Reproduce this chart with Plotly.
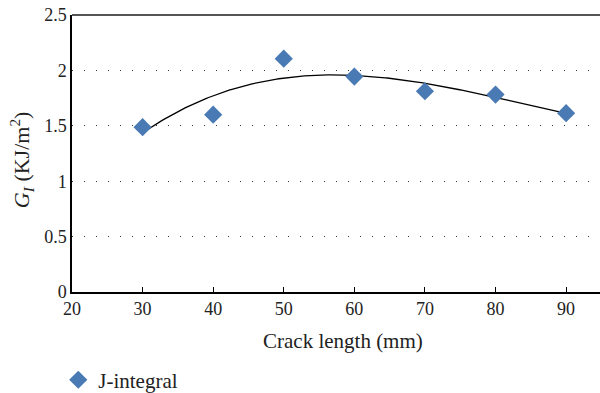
import numpy as np
import plotly.graph_objects as go

crack_length = [30, 40, 50, 60, 70, 80, 90]
g_values = [1.488, 1.600, 2.106, 1.944, 1.812, 1.782, 1.614]
series_name = "J-integral"
y_ticks = [0, 0.5, 1, 1.5, 2, 2.5]
y_tick_labels = ["0", "0.5", "1", "1.5", "2", "2.5"]
x_ticks = [20, 30, 40, 50, 60, 70, 80, 90]

# Excel-style polynomial (order 3) trendline fitted to the data
coef = np.polyfit(crack_length, g_values, 3)
xt = np.linspace(min(crack_length), max(crack_length), 200)
yt = np.polyval(coef, xt)

FONT = "Liberation Serif"
FS = 18
FT = 21
COL = "#222"
fig = go.Figure()
fig.add_trace(go.Scatter(x=xt, y=yt, mode="lines", line=dict(color="black", width=1.3),
                         showlegend=False, hoverinfo="skip"))
fig.add_trace(go.Scatter(x=crack_length, y=g_values, mode="markers", name=series_name,
                         marker=dict(symbol="diamond", size=14, color="#4a7ab4")))

fig.update_layout(
    width=600, height=393,
    margin=dict(l=72, r=0, t=15, b=101, autoexpand=False),
    paper_bgcolor="white", plot_bgcolor="white",
    font=dict(family=FONT, size=FS, color=COL),
    showlegend=True,
    legend=dict(orientation="h", x=-0.026, y=-0.318, xanchor="left", yanchor="middle",
                font=dict(family=FONT, size=FT, color=COL), bgcolor="rgba(0,0,0,0)"),
    xaxis=dict(range=[20, 94.8], tickvals=x_ticks, ticks="inside", ticklen=5,
               tickcolor="black", showline=True, linecolor="black", linewidth=1.5,
               showgrid=False, zeroline=False, automargin=False,
               tickfont=dict(family=FONT, size=FS, color=COL)),
    yaxis=dict(range=[0, 2.5], tickvals=y_ticks, ticktext=y_tick_labels, ticks="",
               showline=True, linecolor="black", linewidth=1.5, automargin=False,
               tickfont=dict(family=FONT, size=FS, color=COL),
               showgrid=True, gridcolor="#333", gridwidth=1, griddash="1px,11px",
               zeroline=False),
)
fig.add_shape(type="line", xref="paper", yref="paper", x0=0, x1=1, y0=1, y1=1,
              line=dict(color="#555", width=2))
# x-axis title
fig.add_annotation(text="Crack length (mm)", xref="paper", yref="paper",
                   x=0.5, y=0, xshift=7, yshift=-49, xanchor="center", yanchor="middle",
                   showarrow=False, font=dict(family=FONT, size=FT, color=COL))
# y-axis title
fig.add_annotation(text="<i>G<sub>I</sub></i> (KJ/m<sup>2</sup>)", xref="paper", yref="paper",
                   x=0, y=0.476, xshift=-51, xanchor="center", yanchor="middle",
                   textangle=-90, showarrow=False,
                   font=dict(family=FONT, size=22, color=COL))
fig.write_html("out.html", config={"displayModeBar": False},
               post_script="document.body.style.margin='0';document.body.style.overflow='hidden';")
